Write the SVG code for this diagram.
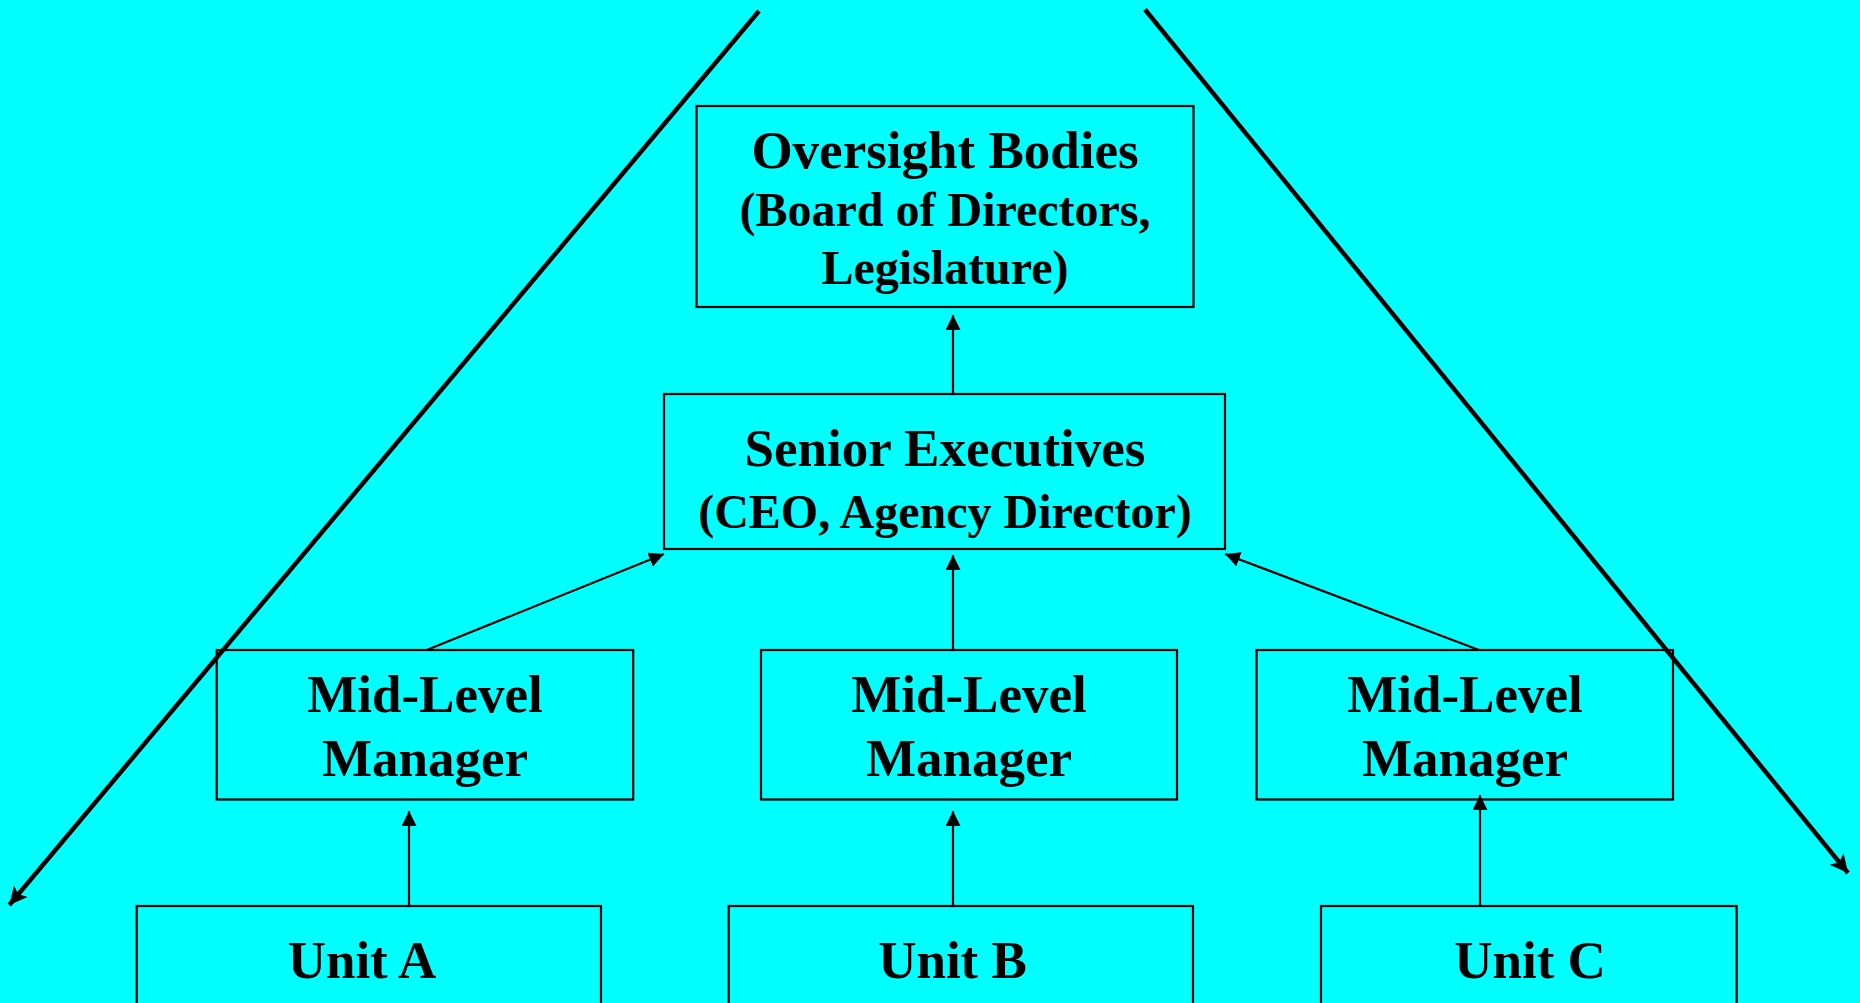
<svg xmlns="http://www.w3.org/2000/svg" width="1860" height="1003" viewBox="0 0 1860 1003">
<style>
.box{fill:none;stroke:#000;stroke-width:2.2}
.t{font-family:"Liberation Serif","Times New Roman",serif;font-weight:bold;fill:#000;text-anchor:middle}
.big{font-size:53px}
.sub{font-size:48px}
.c{stroke:#000;stroke-width:2.2;fill:none;marker-end:url(#ah)}
.d{stroke:#000;stroke-width:4.5;fill:none;marker-end:url(#bh)}
</style>
<defs>
<marker id="ah" markerUnits="userSpaceOnUse" markerWidth="16" markerHeight="16" refX="15" refY="7.5" orient="auto" viewBox="0 0 16 16">
<path d="M0,0 L15,7.5 L0,15 z" fill="#000"/>
</marker>
<marker id="bh" markerUnits="userSpaceOnUse" markerWidth="20" markerHeight="20" refX="18" refY="9" orient="auto" viewBox="0 0 20 20">
<path d="M0,0 L18,9 L0,18 L4,9 z" fill="#000"/>
</marker>
</defs>
<rect x="0" y="0" width="1860" height="1003" fill="#00FFFF"/>

<g id="oversight">
<rect class="box" x="696.5" y="106" width="497" height="201"/>
<text class="t big" x="945" y="168">Oversight Bodies</text>
<text class="t sub" x="945" y="226">(Board of Directors,</text>
<text class="t sub" x="945" y="284">Legislature)</text>
</g>

<g id="senior">
<rect class="box" x="664" y="394" width="561" height="155"/>
<text class="t big" x="945" y="466">Senior Executives</text>
<text class="t sub" x="945" y="528">(CEO, Agency Director)</text>
</g>

<g id="midA">
<rect class="box" x="216.7" y="650" width="416.5" height="149.5"/>
<text class="t big" x="425" y="712">Mid-Level</text>
<text class="t big" x="425" y="776">Manager</text>
</g>

<g id="midB">
<rect class="box" x="761" y="650" width="416" height="149.5"/>
<text class="t big" x="969" y="712">Mid-Level</text>
<text class="t big" x="969" y="776">Manager</text>
</g>

<g id="midC">
<rect class="box" x="1256.5" y="650" width="416.5" height="149.5"/>
<text class="t big" x="1465" y="712">Mid-Level</text>
<text class="t big" x="1465" y="776">Manager</text>
</g>

<g id="unitA">
<rect class="box" x="136.7" y="906" width="464.3" height="120"/>
<text class="t big" x="362" y="978">Unit A</text>
</g>

<g id="unitB">
<rect class="box" x="728.7" y="906" width="464.3" height="120"/>
<text class="t big" x="952.5" y="978">Unit B</text>
</g>

<g id="unitC">
<rect class="box" x="1321" y="906" width="415.6" height="120"/>
<text class="t big" x="1530" y="978">Unit C</text>
</g>

<g id="connectors">
<line class="c" x1="953" y1="394" x2="953" y2="315"/>
<line class="c" x1="953" y1="650" x2="953" y2="555"/>
<line class="c" x1="426.7" y1="650" x2="664" y2="554"/>
<line class="c" x1="1479" y1="650" x2="1225" y2="554"/>
<line class="c" x1="409" y1="906" x2="409" y2="811"/>
<line class="c" x1="953" y1="906" x2="953" y2="811"/>
<line class="c" x1="1480" y1="906" x2="1480" y2="795"/>
<line class="d" x1="759" y1="11" x2="9.3" y2="905"/>
<line class="d" x1="1145" y1="9.5" x2="1848" y2="873"/>
</g>
</svg>
